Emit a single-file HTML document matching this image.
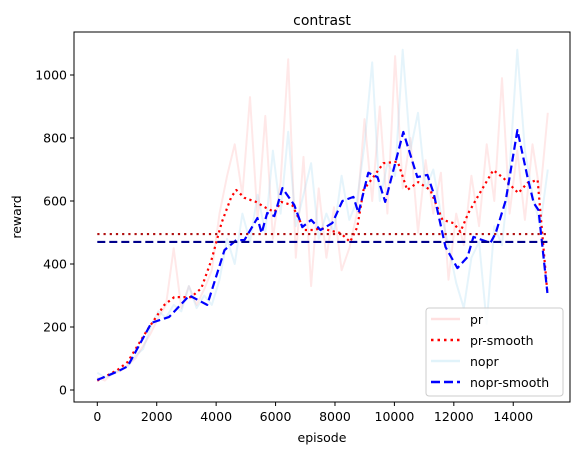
<!DOCTYPE html>
<html><head><meta charset="utf-8">
<style>
body{margin:0;background:#fff;}
svg{display:block;font-family:"DejaVu Sans","Liberation Sans",sans-serif;}
</style></head>
<body>
<svg id="chart" width="580" height="455" viewBox="0 0 580 455">
<rect width="580" height="455" fill="#fff"/>
<text x="322" y="25" font-size="14" text-anchor="middle">contrast</text>
<g id="plot"></g>
<rect x="74" y="32" width="496" height="370" fill="none" stroke="#000" stroke-width="1"/>
<text x="322" y="442" font-size="12.5" text-anchor="middle">episode</text>
<text transform="translate(21,217) rotate(-90)" font-size="12.5" text-anchor="middle">reward</text>
<g>
<rect x="426" y="308" width="137" height="88" rx="3" fill="#fff" fill-opacity="0.8" stroke="#ccc"/>
<line x1="431" y1="319" x2="460" y2="319" stroke="rgba(255,0,0,0.12)" stroke-width="2.5"/>
<text x="470" y="324" font-size="12.5">pr</text>
<line x1="431" y1="340" x2="460" y2="340" stroke="#f00" stroke-width="2.5" stroke-dasharray="2.5,4"/>
<text x="470" y="345" font-size="12.5">pr-smooth</text>
<line x1="431" y1="361" x2="460" y2="361" stroke="rgba(135,206,235,0.25)" stroke-width="2.5"/>
<text x="470" y="366" font-size="12.5">nopr</text>
<line x1="431" y1="382" x2="460" y2="382" stroke="#00f" stroke-width="2.5" stroke-dasharray="9,4"/>
<text x="470" y="387" font-size="12.5">nopr-smooth</text>
</g>
</svg>
<script>
const xTicks = [0,2000,4000,6000,8000,10000,12000,14000];
const yTicks = [0,200,400,600,800,1000];
const rawStep = 257;
const prRaw = [40,30,55,60,80,100,140,180,230,270,450,260,330,270,320,380,560,680,780,620,930,540,870,480,660,1050,420,740,330,640,420,580,380,450,560,860,600,900,560,1060,640,800,500,730,560,690,350,560,460,680,520,780,600,990,560,760,540,780,620,880];
const noprRaw = [55,40,50,65,75,110,130,200,250,230,270,250,330,260,300,270,350,480,400,560,470,620,500,760,560,820,520,620,720,480,560,500,680,540,600,780,1040,600,720,680,1080,760,880,640,700,560,460,340,260,420,470,210,520,460,700,1080,760,620,520,700];
const prSmoothX = [0,670,1020,1680,2260,2590,3160,3500,3840,4180,4510,4680,4950,5340,5680,5960,6190,6560,6970,7300,7510,8190,8510,8750,8960,9290,9630,10110,10430,10800,11210,11620,11990,12220,12490,12800,13330,13670,14170,14480,14820,15150];
const prSmoothY = [30,63,89,190,270,295,295,323,412,530,613,635,610,597,578,565,597,587,508,508,514,498,470,517,635,676,720,725,635,660,635,540,530,502,562,613,698,673,625,657,667,308];
const noprSmoothX = [0,670,1020,1820,2420,3100,3700,4280,4680,4950,5390,5530,5720,5960,6230,6630,6900,7200,7510,7910,8250,8620,8790,9120,9430,9690,10300,10770,11110,11320,11720,12120,12460,12660,13230,13410,13750,14140,14480,14690,14850,15150];
const noprSmoothY = [32,58,75,213,232,300,270,444,476,476,546,498,562,552,641,587,517,540,508,530,600,613,562,690,676,597,819,676,683,625,454,387,422,486,467,498,603,825,676,594,571,308];
const prMean = 495;
const noprMean = 470;

const X = v => 97.3 + v * 0.02971;
const Y = v => 390 - v * 0.315;
const NS = "http://www.w3.org/2000/svg";
const plot = document.getElementById('plot');
const chart = document.getElementById('chart');

function mk(tag, attrs, parent){
  const e = document.createElementNS(NS, tag);
  for (const k in attrs) e.setAttribute(k, attrs[k]);
  (parent||plot).appendChild(e);
  return e;
}
xTicks.forEach(t=>{
  const l = mk('line',{x1:X(t),x2:X(t),y1:402,y2:406,stroke:'#000'},chart);
  
  
  const tx = mk('text',{x:X(t),y:421,'font-size':12.5,'text-anchor':'middle'},chart);
  tx.textContent = t;
  
  
});
yTicks.forEach(t=>{
  const l = mk('line',{x1:70,x2:74,y1:Y(t),y2:Y(t),stroke:'#000'},chart);
  
  
  const tx = mk('text',{x:67,y:Y(t)+4.5,'font-size':12.5,'text-anchor':'end'},chart);
  tx.textContent = t;
  
  
});
function pts(xs, ys){ return ys.map((v,i)=>X(xs[i]).toFixed(1)+','+Y(v).toFixed(1)).join(' '); }
const rawX = prRaw.map((_,i)=>i*rawStep);
const prLine = mk('polyline',{points:pts(rawX,prRaw),fill:'none',stroke:'rgba(255,0,0,0.09)','stroke-width':2,'stroke-linejoin':'round'});


const noprLine = mk('polyline',{points:pts(rawX,noprRaw),fill:'none',stroke:'rgba(135,206,235,0.22)','stroke-width':2,'stroke-linejoin':'round'});


const prS = mk('polyline',{points:pts(prSmoothX,prSmoothY),fill:'none',stroke:'#f00','stroke-width':2.2,'stroke-dasharray':'2.2,3.5','stroke-linejoin':'round'});


const noprS = mk('polyline',{points:pts(noprSmoothX,noprSmoothY),fill:'none',stroke:'#00f','stroke-width':2.2,'stroke-dasharray':'8,4','stroke-linejoin':'round'});


const pm = mk('line',{x1:X(0),x2:X(15150),y1:Y(prMean),y2:Y(prMean),stroke:'#b01010','stroke-width':2.2,'stroke-dasharray':'2.2,4'});


const nm = mk('line',{x1:X(0),x2:X(15150),y1:Y(noprMean),y2:Y(noprMean),stroke:'#00008b','stroke-width':2.2,'stroke-dasharray':'8,4'});


</script>
</body></html>
